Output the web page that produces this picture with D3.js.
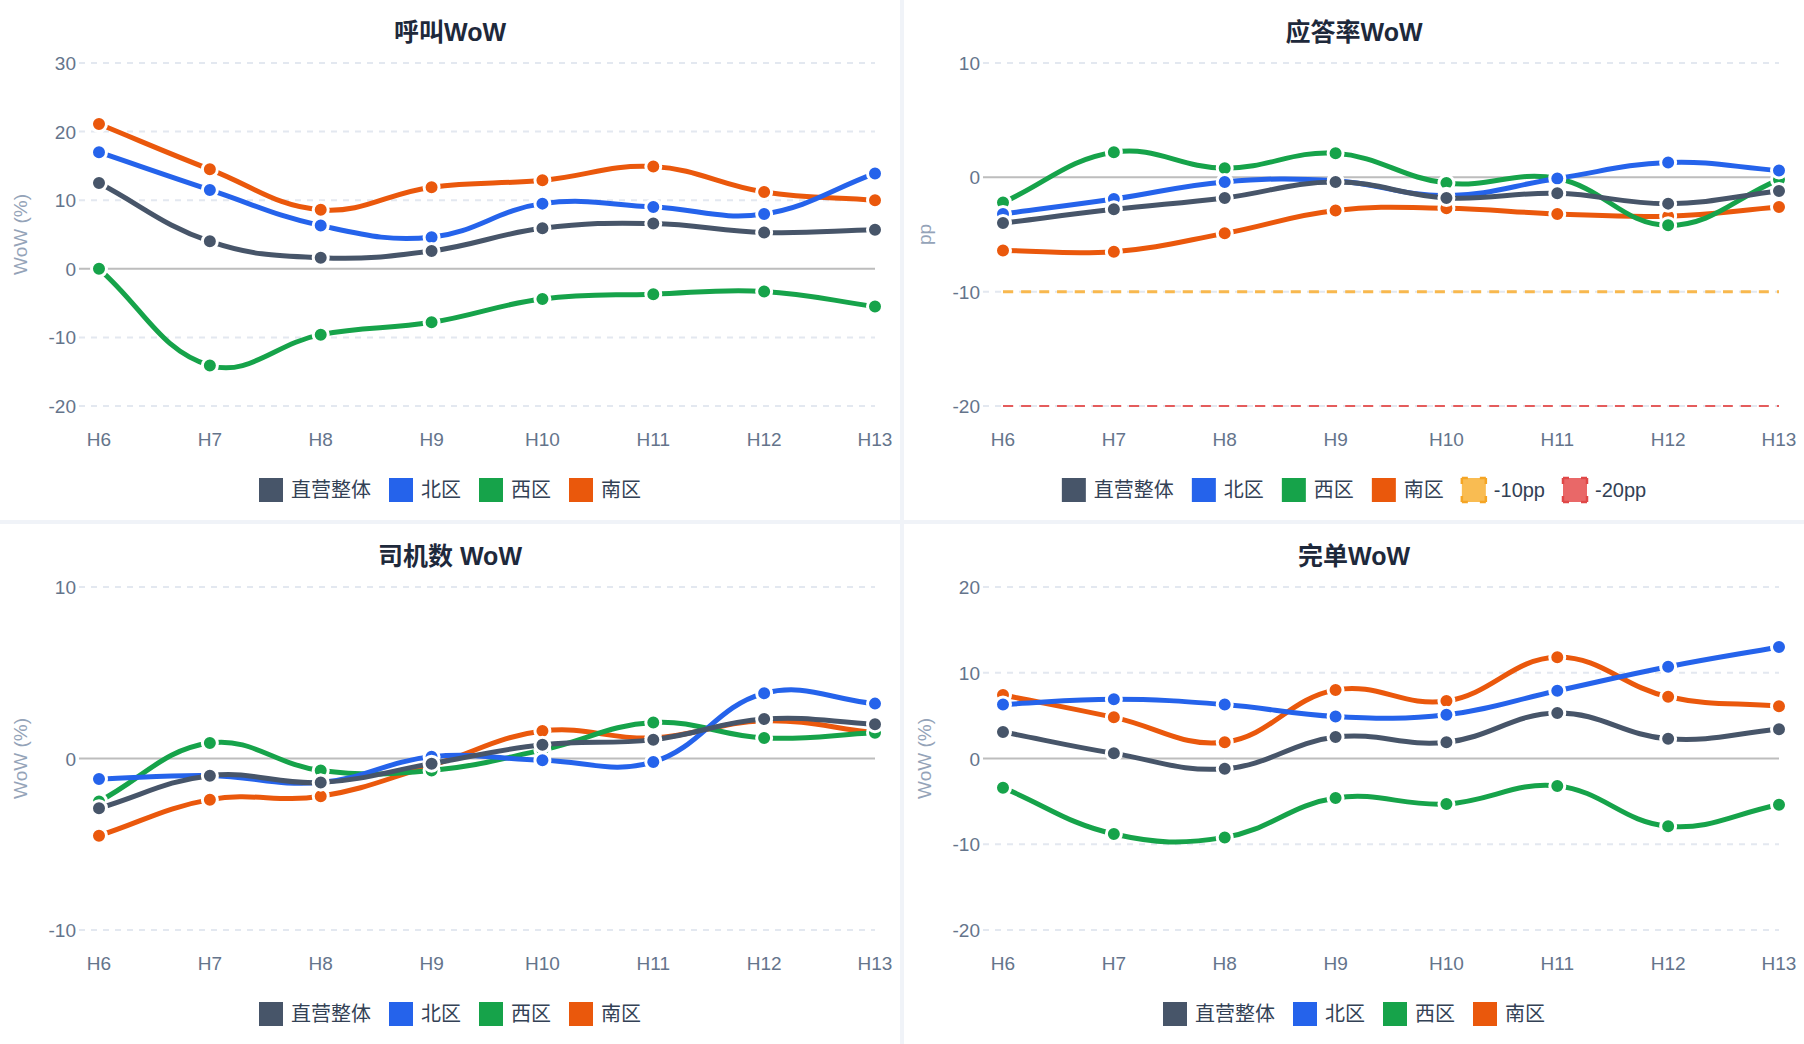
<!DOCTYPE html>
<html>
<head>
<meta charset="utf-8">
<script src="https://cdn.jsdelivr.net/npm/d3@7"></script>
<style>
  body { margin: 0; background: #f0f3f8; }
  svg { display: block; font-family: "Helvetica Neue", Helvetica, Arial, "Liberation Sans", "Noto Sans CJK SC", sans-serif; }
</style>
</head>
<body>
<svg id="chart" width="1804" height="1044"></svg>
<script>
// Categories and series names.
const hours = ['H6', 'H7', 'H8', 'H9', 'H10', 'H11', 'H12', 'H13'];
const regions = ['直营整体', '北区', '西区', '南区'];
const regionColors = ['#475569', '#2563eb', '#16a34a', '#ea580c'];

// 呼叫WoW (%)
const callTotal = [12.5, 4.0, 1.6, 2.6, 5.9, 6.6, 5.3, 5.7];
const callNorth = [17.0, 11.5, 6.3, 4.6, 9.5, 9.0, 8.0, 13.9];
const callWest  = [0.0, -14.1, -9.6, -7.8, -4.4, -3.7, -3.3, -5.5];
const callSouth = [21.1, 14.5, 8.6, 11.9, 12.9, 14.9, 11.2, 10.0];
const callTicks = [-20, -10, 0, 10, 20, 30];

// 应答率WoW (pp)
const answerTotal = [-4.0, -2.8, -1.8, -0.4, -1.8, -1.4, -2.3, -1.2];
const answerNorth = [-3.2, -1.9, -0.4, -0.3, -1.6, -0.1, 1.3, 0.6];
const answerWest  = [-2.2, 2.2, 0.8, 2.1, -0.5, -0.1, -4.2, -0.2];
const answerSouth = [-6.4, -6.5, -4.9, -2.9, -2.7, -3.2, -3.4, -2.6];
const answerTicks = [-20, -10, 0, 10];
const line10pp = [-10, -10, -10, -10, -10, -10, -10, -10];
const line20pp = [-20, -20, -20, -20, -20, -20, -20, -20];

// 司机数 WoW (%)
const driverTotal = [-2.9, -1.0, -1.4, -0.3, 0.8, 1.1, 2.3, 2.0];
const driverNorth = [-1.2, -1.0, -1.4, 0.1, -0.1, -0.2, 3.8, 3.2];
const driverWest  = [-2.5, 0.9, -0.7, -0.7, 0.5, 2.1, 1.2, 1.5];
const driverSouth = [-4.5, -2.4, -2.2, -0.4, 1.6, 1.2, 2.2, 1.5];
const driverTicks = [-10, 0, 10];

// 完单WoW (%)
const orderTotal = [3.1, 0.6, -1.2, 2.5, 1.9, 5.3, 2.3, 3.4];
const orderNorth = [6.3, 6.9, 6.3, 4.9, 5.1, 7.9, 10.7, 13.0];
const orderWest  = [-3.4, -8.8, -9.2, -4.6, -5.3, -3.2, -7.9, -5.4];
const orderSouth = [7.4, 4.8, 1.9, 8.0, 6.7, 11.8, 7.2, 6.1];
const orderTicks = [-20, -10, 0, 10, 20];

// Panel layout.
const panel_w = 900, panel_h = 520, gap = 4;
const plot = { left: 99, right: 875, top: 63, bottom: 406 };

function regionSeries( values ){
  return values.map( function( v, i ){ return { name: regions[i], color: regionColors[i], values: v } } );
}

const charts = [
  { title: '呼叫WoW', y_title: 'WoW (%)', ticks: callTicks,
    series: regionSeries( [callTotal, callNorth, callWest, callSouth] ), refs: [] },
  { title: '应答率WoW', y_title: 'pp', ticks: answerTicks,
    series: regionSeries( [answerTotal, answerNorth, answerWest, answerSouth] ),
    refs: [
      { name: '-10pp', values: line10pp, stroke: '#f8b84e', width: 3, fill: '#f9bc52', border: '#f5a524' },
      { name: '-20pp', values: line20pp, stroke: '#e45c5c', width: 2, fill: '#e96868', border: '#e04848' }
    ] },
  { title: '司机数 WoW', y_title: 'WoW (%)', ticks: driverTicks,
    series: regionSeries( [driverTotal, driverNorth, driverWest, driverSouth] ), refs: [] },
  { title: '完单WoW', y_title: 'WoW (%)', ticks: orderTicks,
    series: regionSeries( [orderTotal, orderNorth, orderWest, orderSouth] ), refs: [] }
];

// Chart.js style spline (tension 0.4, distance weighted).
function splinePath( pts, t ){
  const n = pts.length;
  const clampY = function( y ){ return Math.max( plot.top, Math.min( plot.bottom, y ) ) };
  const cps = pts.map( function( p, i ){
    const prev = pts[ Math.max( i - 1, 0 ) ], next = pts[ Math.min( i + 1, n - 1 ) ];
    const d01 = Math.hypot( p[0] - prev[0], p[1] - prev[1] );
    const d12 = Math.hypot( next[0] - p[0], next[1] - p[1] );
    let s01 = d01 / ( d01 + d12 ), s12 = d12 / ( d01 + d12 );
    if( isNaN( s01 ) ) s01 = 0;
    if( isNaN( s12 ) ) s12 = 0;
    const fa = t * s01, fb = t * s12;
    return {
      inX: p[0] - fa * ( next[0] - prev[0] ), inY: clampY( p[1] - fa * ( next[1] - prev[1] ) ),
      outX: p[0] + fb * ( next[0] - prev[0] ), outY: clampY( p[1] + fb * ( next[1] - prev[1] ) )
    };
  } );
  const path = d3.path();
  path.moveTo( pts[0][0], pts[0][1] );
  for( let i = 1; i < n; i++ ){
    path.bezierCurveTo( cps[i-1].outX, cps[i-1].outY, cps[i].inX, cps[i].inY, pts[i][0], pts[i][1] );
  }
  return path.toString();
}

const svg = d3.select( '#chart' );

charts.forEach( function( chart, ci ){
  const px = ( ci % 2 ) * ( panel_w + gap );
  const py = Math.floor( ci / 2 ) * ( panel_h + gap );
  const g = svg.append( 'g' ).attr( 'transform', 'translate(' + px + ',' + py + ')' );

  g.append( 'rect' )
    .attr( 'width', panel_w ).attr( 'height', panel_h )
    .attr( 'fill', '#ffffff' );

  const x = d3.scalePoint().domain( hours ).range( [plot.left, plot.right] );
  const y = d3.scaleLinear()
    .domain( d3.extent( chart.ticks ) )
    .range( [plot.bottom, plot.top] );

  // Title.
  g.append( 'text' )
    .attr( 'x', panel_w / 2 ).attr( 'y', 41 )
    .attr( 'text-anchor', 'middle' )
    .attr( 'font-size', 25 ).attr( 'font-weight', 'bold' )
    .attr( 'fill', '#1e293b' )
    .text( chart.title );

  // Grid lines and y ticks.
  chart.ticks.forEach( function( t ){
    g.append( 'line' )
      .attr( 'x1', 79 ).attr( 'x2', plot.right )
      .attr( 'y1', y( t ) ).attr( 'y2', y( t ) )
      .attr( 'stroke', t === 0 ? '#bdbdbd' : '#e3e8f0' )
      .attr( 'stroke-width', 2 )
      .attr( 'stroke-dasharray', t === 0 ? null : '6,6' );
    g.append( 'text' )
      .attr( 'x', 76 ).attr( 'y', y( t ) + 7 )
      .attr( 'text-anchor', 'end' )
      .attr( 'font-size', 19 ).attr( 'fill', '#64748b' )
      .text( t );
  } );

  // X axis labels.
  g.append( 'g' ).selectAll( 'text' )
    .data( hours )
    .enter().append( 'text' )
      .attr( 'x', function( d ){ return x( d ) } )
      .attr( 'y', 446 )
      .attr( 'text-anchor', 'middle' )
      .attr( 'font-size', 19 ).attr( 'fill', '#64748b' )
      .text( function( d ){ return d } );

  // Y axis title.
  g.append( 'text' )
    .attr( 'transform', 'translate(27,' + ( ( plot.top + plot.bottom ) / 2 ) + ') rotate(-90)' )
    .attr( 'text-anchor', 'middle' )
    .attr( 'font-size', 19 ).attr( 'fill', '#94a3b8' )
    .text( chart.y_title );

  // Reference lines drawn first (bottom-most datasets).
  chart.refs.slice().reverse().forEach( function( r ){
    g.append( 'path' )
      .attr( 'd', splinePath( r.values.map( function( v, i ){ return [ x( hours[i] ), y( v ) ] } ), 0.4 ) )
      .attr( 'fill', 'none' )
      .attr( 'stroke', r.stroke )
      .attr( 'stroke-width', r.width )
      .attr( 'stroke-dasharray', '10,8' );
  } );

  // Series: first dataset ends up on top.
  chart.series.slice().reverse().forEach( function( s ){
    const pts = s.values.map( function( v, i ){ return [ x( hours[i] ), y( v ) ] } );
    g.append( 'path' )
      .attr( 'd', splinePath( pts, 0.4 ) )
      .attr( 'fill', 'none' )
      .attr( 'stroke', s.color )
      .attr( 'stroke-width', 5 )
      .attr( 'stroke-linecap', 'round' );
    g.append( 'g' ).selectAll( 'circle' )
      .data( s.values )
      .enter().append( 'circle' )
        .attr( 'cx', function( d, i ){ return x( hours[i] ) } )
        .attr( 'cy', function( d ){ return y( d ) } )
        .attr( 'r', 7.5 )
        .attr( 'fill', s.color )
        .attr( 'stroke', '#ffffff' )
        .attr( 'stroke-width', 3 );
  } );

  // Legend.
  const items = chart.series.map( function( s ){ return { name: s.name, fill: s.color, border: null } } )
    .concat( chart.refs.map( function( r ){ return { name: r.name, fill: r.fill, border: r.border } } ) );
  const legend = g.append( 'g' );
  const key_size = 24;
  let cursor = 0;
  items.forEach( function( it ){
    const item = legend.append( 'g' ).attr( 'transform', 'translate(' + cursor + ',0)' );
    item.append( 'rect' )
      .attr( 'x', 0 ).attr( 'y', 490 - key_size / 2 )
      .attr( 'width', key_size ).attr( 'height', key_size )
      .attr( 'fill', it.fill )
      .attr( 'stroke', it.border )
      .attr( 'stroke-width', it.border ? 2.5 : 0 )
      .attr( 'stroke-dasharray', it.border ? '6,12,6,0' : null );
    const label = item.append( 'text' )
      .attr( 'x', key_size + 8 ).attr( 'y', 497 )
      .attr( 'font-size', 20 ).attr( 'fill', '#334155' )
      .text( it.name );
    cursor += key_size + 8 + label.node().getComputedTextLength() + 18;
  } );
  const total = cursor - 18;
  legend.attr( 'transform', 'translate(' + ( panel_w / 2 - total / 2 ) + ',0)' );
} );
</script>
</body>
</html>
